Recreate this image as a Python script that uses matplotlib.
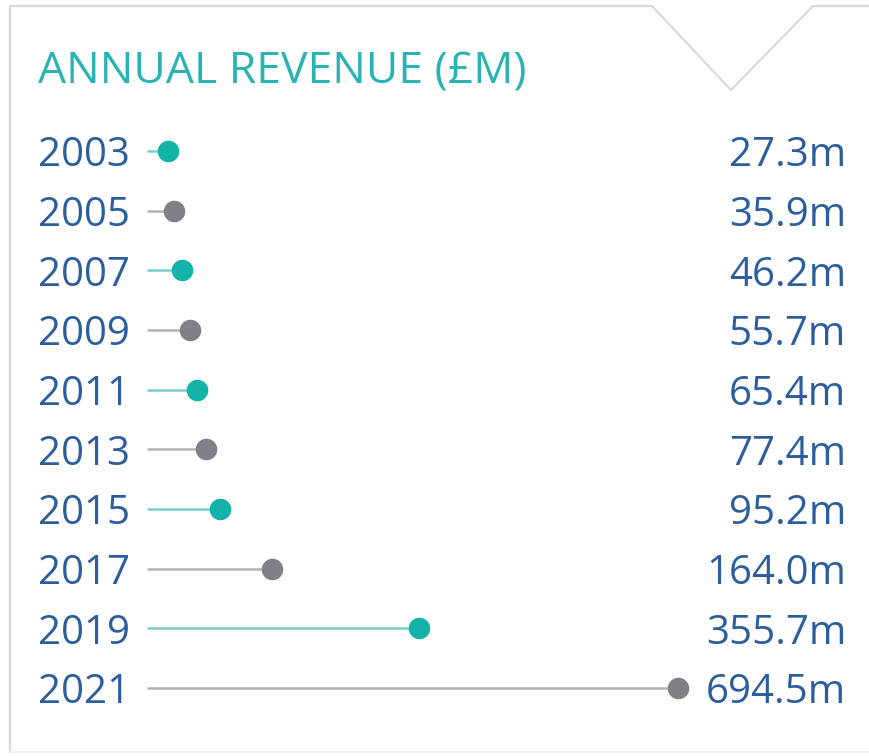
import matplotlib.pyplot as plt
from matplotlib.lines import Line2D
from matplotlib.transforms import blended_transform_factory

# ------------------------
# Data
# ------------------------
years = ["2003", "2005", "2007", "2009", "2011", "2013", "2015", "2017", "2019", "2021"]
revenue = [27.3, 35.9, 46.2, 55.7, 65.4, 77.4, 95.2, 164.0, 355.7, 694.5]
labels = ["27.3m", "35.9m", "46.2m", "55.7m", "65.4m", "77.4m", "95.2m", "164.0m", "355.7m", "694.5m"]

# ------------------------
# Styles
# ------------------------
W, H = 869, 756
TEAL = "#14b3a9"
TEAL_LINE = "#7dcdc8"
GRAY = "#808086"
GRAY_LINE = "#b3b3b6"
TEXT = "#2c5d9c"
TITLE = "#2ab3b3"
BORDER = "#d9d9d9"

plt.rcParams["font.family"] = ["Open Sans", "DejaVu Sans"]

fig = plt.figure(figsize=(W / 100, H / 100), dpi=100)
fig.patch.set_facecolor("white")

# panel border with the notch at the top right
px = [10, 10, 652, 731, 813, W]
py = [752, 6, 6, 90, 6, 6]
fig.add_artist(Line2D([x / W for x in px], [1 - y / H for y in py],
                      transform=fig.transFigure, color=BORDER, lw=1.6))
fig.add_artist(Line2D([10 / W, 1], [1 - 752 / H, 1 - 752 / H],
                      transform=fig.transFigure, color="#eeeeee", lw=1.2))

fig.text(38 / W, 1 - 72 / H, "ANNUAL REVENUE (£M)", color=TITLE,
         fontsize=32, va="center", ha="left")

# lollipop axes
x0, x1 = 147, 678
y0, y1 = 151, 688
ax = fig.add_axes([x0 / W, 1 - y1 / H, (x1 - x0) / W, (y1 - y0) / H])
ax.set_xlim(0, max(revenue))
ax.set_ylim(len(years) - 1, 0)
ax.axis("off")

for i, (yr, v, lab) in enumerate(zip(years, revenue, labels)):
    dot = TEAL if i % 2 == 0 else GRAY
    line = TEAL_LINE if i % 2 == 0 else GRAY_LINE
    ax.hlines(i, 0, v, color=line, lw=1.8, clip_on=False)
    ax.plot(v, i, "o", color=dot, markersize=14.5, clip_on=False, zorder=3)

trans = blended_transform_factory(fig.transFigure, ax.transData)
for i, (yr, lab) in enumerate(zip(years, labels)):
    ax.text(38 / W, i, yr, transform=trans, color=TEXT, fontsize=29,
            ha="left", va="center_baseline")
    ax.text(846 / W, i, lab, transform=trans, color=TEXT, fontsize=29,
            ha="right", va="center_baseline")

fig.savefig("out.png", dpi=100, facecolor="white")
